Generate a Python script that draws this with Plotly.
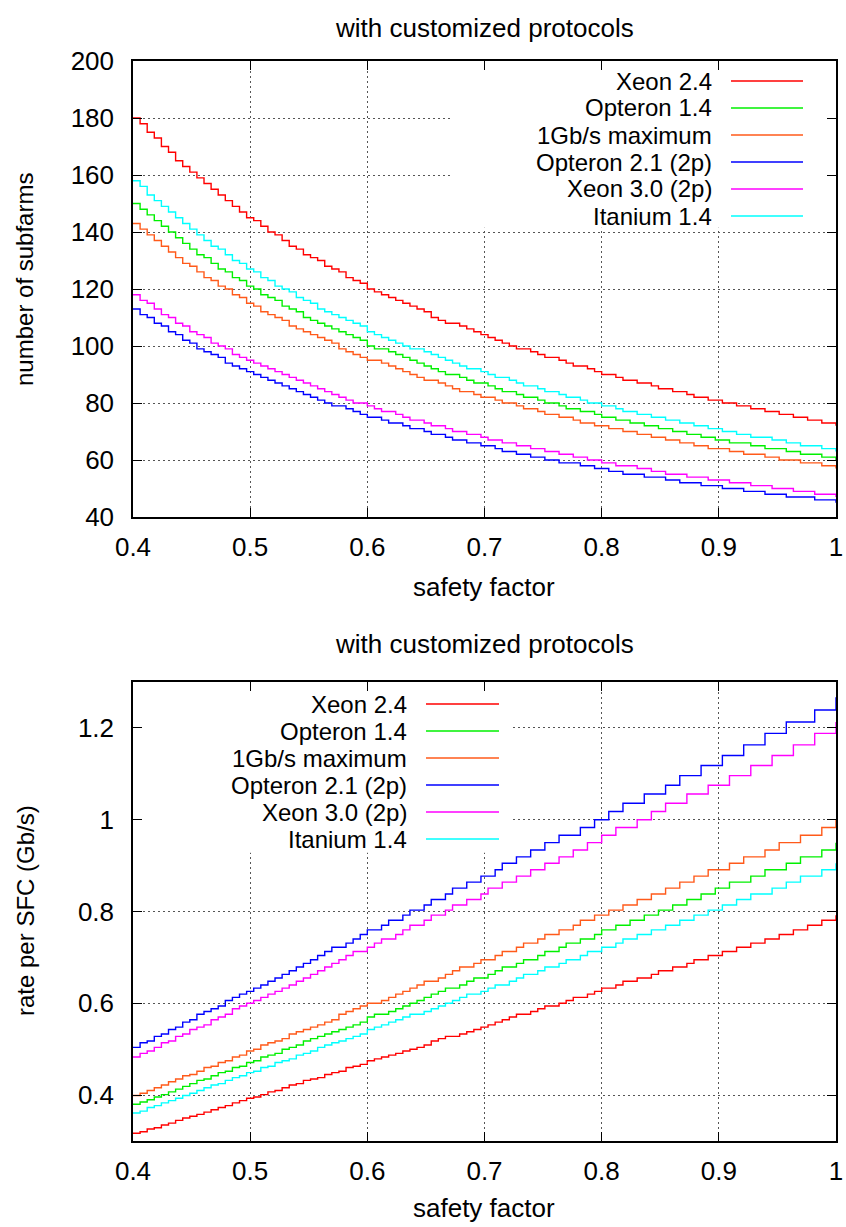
import numpy as np
import plotly.graph_objects as go

# safety factor samples (100 points across the axis range)
safety = np.linspace(0.4, 1.0, 100)

series_names = ["Xeon 2.4", "Opteron 1.4", "1Gb/s maximum",
                "Opteron 2.1 (2p)", "Xeon 3.0 (2p)", "Itanium 1.4"]
series_colors = ["#ff0000", "#00f000", "#ff5a1a", "#0000ff", "#ff00ff", "#00ffff"]

# number of subfarms
subfarms_xeon24 = [
    180, 178, 175, 173, 170, 168, 165, 163, 161, 159,
    157, 155, 153, 151, 149, 147, 145, 144, 142, 140,
    139, 137, 135, 134, 132, 131, 130, 128, 127, 126,
    124, 123, 122, 120, 119, 118, 117, 116, 115, 114,
    113, 112, 110, 109, 108, 108, 107, 106, 105, 104,
    103, 102, 101, 100, 99, 99, 98, 97, 96, 96,
    95, 94, 93, 93, 92, 91, 90, 90, 89, 88,
    88, 87, 87, 86, 85, 85, 84, 84, 83, 82,
    82, 81, 81, 80, 80, 79, 79, 78, 78, 77,
    77, 76, 76, 75, 75, 74, 74, 73, 73, 72]
subfarms_opteron14 = [
    150, 148, 146, 144, 142, 140, 138, 136, 134, 132,
    131, 129, 127, 126, 124, 123, 121, 120, 118, 117,
    116, 114, 113, 112, 110, 109, 108, 107, 106, 105,
    104, 103, 102, 100, 99, 99, 98, 97, 96, 95,
    94, 93, 92, 91, 90, 90, 89, 88, 87, 87,
    86, 85, 84, 84, 83, 82, 82, 81, 80, 80,
    79, 78, 78, 77, 77, 76, 75, 75, 74, 74,
    73, 73, 72, 72, 71, 71, 70, 70, 69, 69,
    68, 68, 67, 67, 66, 66, 66, 65, 65, 64,
    64, 64, 63, 63, 62, 62, 62, 61, 61, 60]
subfarms_1gb = [
    143, 141, 139, 137, 135, 133, 131, 129, 128, 126,
    124, 123, 121, 120, 118, 117, 115, 114, 112, 111,
    110, 109, 107, 106, 105, 104, 103, 102, 101, 99,
    98, 97, 96, 95, 95, 94, 93, 92, 91, 90,
    89, 88, 88, 87, 86, 85, 84, 84, 83, 82,
    82, 81, 80, 80, 79, 78, 78, 77, 76, 76,
    75, 75, 74, 73, 73, 72, 72, 71, 71, 70,
    70, 69, 69, 68, 68, 67, 67, 66, 66, 65,
    65, 64, 64, 64, 63, 63, 62, 62, 62, 61,
    61, 60, 60, 60, 59, 59, 59, 58, 58, 57]
subfarms_opteron21 = [
    113, 111, 110, 108, 107, 105, 104, 102, 101, 99,
    98, 97, 96, 94, 93, 92, 91, 90, 89, 88,
    87, 86, 85, 84, 83, 82, 81, 80, 79, 79,
    78, 77, 76, 75, 75, 74, 73, 73, 72, 71,
    71, 70, 69, 69, 68, 67, 67, 66, 66, 65,
    65, 64, 63, 63, 62, 62, 61, 61, 60, 60,
    59, 59, 59, 58, 58, 57, 57, 56, 56, 55,
    55, 55, 54, 54, 54, 53, 53, 52, 52, 52,
    51, 51, 51, 50, 50, 50, 49, 49, 49, 48,
    48, 48, 47, 47, 47, 47, 46, 46, 46, 45]
subfarms_xeon30 = [
    118, 116, 115, 113, 111, 110, 108, 107, 105, 104,
    103, 101, 100, 99, 97, 96, 95, 94, 93, 92,
    91, 90, 89, 88, 87, 86, 85, 84, 83, 82,
    81, 80, 80, 79, 78, 77, 77, 76, 75, 74,
    74, 73, 72, 72, 71, 70, 70, 69, 69, 68,
    67, 67, 66, 66, 65, 65, 64, 64, 63, 63,
    62, 62, 61, 61, 60, 60, 59, 59, 58, 58,
    58, 57, 57, 56, 56, 55, 55, 55, 54, 54,
    54, 53, 53, 53, 52, 52, 52, 51, 51, 51,
    50, 50, 50, 49, 49, 49, 48, 48, 48, 47]
subfarms_itanium14 = [
    158, 156, 153, 151, 149, 147, 145, 143, 141, 139,
    137, 135, 134, 132, 130, 129, 127, 126, 124, 123,
    121, 120, 119, 117, 116, 115, 113, 112, 111, 110,
    109, 108, 107, 105, 104, 103, 102, 101, 100, 99,
    99, 98, 97, 96, 95, 94, 93, 92, 92, 91,
    90, 89, 89, 88, 87, 86, 86, 85, 84, 84,
    83, 82, 82, 81, 80, 80, 79, 79, 78, 77,
    77, 76, 76, 75, 75, 74, 74, 73, 73, 72,
    72, 71, 71, 70, 70, 69, 69, 68, 68, 68,
    67, 67, 66, 66, 65, 65, 65, 64, 64, 63]

# rate per SFC (Gb/s)
rate_xeon24 = [
    0.317, 0.320, 0.326, 0.329, 0.335, 0.339, 0.345, 0.350, 0.354, 0.358,
    0.363, 0.368, 0.373, 0.377, 0.383, 0.388, 0.393, 0.396, 0.401, 0.407,
    0.410, 0.416, 0.422, 0.425, 0.432, 0.435, 0.438, 0.445, 0.449, 0.452,
    0.460, 0.463, 0.467, 0.475, 0.479, 0.483, 0.487, 0.491, 0.496, 0.500,
    0.504, 0.509, 0.518, 0.523, 0.528, 0.528, 0.533, 0.538, 0.543, 0.548,
    0.553, 0.559, 0.564, 0.570, 0.576, 0.576, 0.582, 0.588, 0.594, 0.594,
    0.600, 0.606, 0.613, 0.613, 0.620, 0.626, 0.633, 0.633, 0.640, 0.648,
    0.648, 0.655, 0.655, 0.663, 0.671, 0.671, 0.679, 0.679, 0.687, 0.695,
    0.695, 0.704, 0.704, 0.713, 0.713, 0.722, 0.722, 0.731, 0.731, 0.740,
    0.740, 0.750, 0.750, 0.760, 0.760, 0.770, 0.770, 0.781, 0.781, 0.792]
rate_opteron14 = [
    0.380, 0.385, 0.390, 0.396, 0.401, 0.407, 0.413, 0.419, 0.425, 0.432,
    0.435, 0.442, 0.449, 0.452, 0.460, 0.463, 0.471, 0.475, 0.483, 0.487,
    0.491, 0.500, 0.504, 0.509, 0.518, 0.523, 0.528, 0.533, 0.538, 0.543,
    0.548, 0.553, 0.559, 0.570, 0.576, 0.576, 0.582, 0.588, 0.594, 0.600,
    0.606, 0.613, 0.620, 0.626, 0.633, 0.633, 0.640, 0.648, 0.655, 0.655,
    0.663, 0.671, 0.679, 0.679, 0.687, 0.695, 0.695, 0.704, 0.713, 0.713,
    0.722, 0.731, 0.731, 0.740, 0.740, 0.750, 0.760, 0.760, 0.770, 0.770,
    0.781, 0.781, 0.792, 0.792, 0.803, 0.803, 0.814, 0.814, 0.826, 0.826,
    0.838, 0.838, 0.851, 0.851, 0.864, 0.864, 0.864, 0.877, 0.877, 0.891,
    0.891, 0.891, 0.905, 0.905, 0.919, 0.919, 0.919, 0.934, 0.934, 0.950]
rate_1gb = [
    0.399, 0.404, 0.410, 0.416, 0.422, 0.429, 0.435, 0.442, 0.445, 0.452,
    0.460, 0.463, 0.471, 0.475, 0.483, 0.487, 0.496, 0.500, 0.509, 0.514,
    0.518, 0.523, 0.533, 0.538, 0.543, 0.548, 0.553, 0.559, 0.564, 0.576,
    0.582, 0.588, 0.594, 0.600, 0.600, 0.606, 0.613, 0.620, 0.626, 0.633,
    0.640, 0.648, 0.648, 0.655, 0.663, 0.671, 0.679, 0.679, 0.687, 0.695,
    0.695, 0.704, 0.713, 0.713, 0.722, 0.731, 0.731, 0.740, 0.750, 0.750,
    0.760, 0.760, 0.770, 0.781, 0.781, 0.792, 0.792, 0.803, 0.803, 0.814,
    0.814, 0.826, 0.826, 0.838, 0.838, 0.851, 0.851, 0.864, 0.864, 0.877,
    0.877, 0.891, 0.891, 0.891, 0.905, 0.905, 0.919, 0.919, 0.919, 0.934,
    0.934, 0.950, 0.950, 0.950, 0.966, 0.966, 0.966, 0.983, 0.983, 1.000]
rate_opteron21 = [
    0.504, 0.514, 0.518, 0.528, 0.533, 0.543, 0.548, 0.559, 0.564, 0.576,
    0.582, 0.588, 0.594, 0.606, 0.613, 0.620, 0.626, 0.633, 0.640, 0.648,
    0.655, 0.663, 0.671, 0.679, 0.687, 0.695, 0.704, 0.713, 0.722, 0.722,
    0.731, 0.740, 0.750, 0.760, 0.760, 0.770, 0.781, 0.781, 0.792, 0.803,
    0.803, 0.814, 0.826, 0.826, 0.838, 0.851, 0.851, 0.864, 0.864, 0.877,
    0.877, 0.891, 0.905, 0.905, 0.919, 0.919, 0.934, 0.934, 0.950, 0.950,
    0.966, 0.966, 0.966, 0.983, 0.983, 1.000, 1.000, 1.018, 1.018, 1.036,
    1.036, 1.036, 1.056, 1.056, 1.056, 1.075, 1.075, 1.096, 1.096, 1.096,
    1.118, 1.118, 1.118, 1.140, 1.140, 1.140, 1.163, 1.163, 1.163, 1.188,
    1.188, 1.188, 1.213, 1.213, 1.213, 1.213, 1.239, 1.239, 1.239, 1.267]
rate_xeon30 = [
    0.483, 0.491, 0.496, 0.504, 0.514, 0.518, 0.528, 0.533, 0.543, 0.548,
    0.553, 0.564, 0.570, 0.576, 0.588, 0.594, 0.600, 0.606, 0.613, 0.620,
    0.626, 0.633, 0.640, 0.648, 0.655, 0.663, 0.671, 0.679, 0.687, 0.695,
    0.704, 0.713, 0.713, 0.722, 0.731, 0.740, 0.740, 0.750, 0.760, 0.770,
    0.770, 0.781, 0.792, 0.792, 0.803, 0.814, 0.814, 0.826, 0.826, 0.838,
    0.851, 0.851, 0.864, 0.864, 0.877, 0.877, 0.891, 0.891, 0.905, 0.905,
    0.919, 0.919, 0.934, 0.934, 0.950, 0.950, 0.966, 0.966, 0.983, 0.983,
    0.983, 1.000, 1.000, 1.018, 1.018, 1.036, 1.036, 1.036, 1.056, 1.056,
    1.056, 1.075, 1.075, 1.075, 1.096, 1.096, 1.096, 1.118, 1.118, 1.118,
    1.140, 1.140, 1.140, 1.163, 1.163, 1.163, 1.188, 1.188, 1.188, 1.213]
rate_itanium14 = [
    0.361, 0.365, 0.373, 0.377, 0.383, 0.388, 0.393, 0.399, 0.404, 0.410,
    0.416, 0.422, 0.425, 0.432, 0.438, 0.442, 0.449, 0.452, 0.460, 0.463,
    0.471, 0.475, 0.479, 0.487, 0.491, 0.496, 0.504, 0.509, 0.514, 0.518,
    0.523, 0.528, 0.533, 0.543, 0.548, 0.553, 0.559, 0.564, 0.570, 0.576,
    0.576, 0.582, 0.588, 0.594, 0.600, 0.606, 0.613, 0.620, 0.620, 0.626,
    0.633, 0.640, 0.640, 0.648, 0.655, 0.663, 0.663, 0.671, 0.679, 0.679,
    0.687, 0.695, 0.695, 0.704, 0.713, 0.713, 0.722, 0.722, 0.731, 0.740,
    0.740, 0.750, 0.750, 0.760, 0.760, 0.770, 0.770, 0.781, 0.781, 0.792,
    0.792, 0.803, 0.803, 0.814, 0.814, 0.826, 0.826, 0.838, 0.838, 0.838,
    0.851, 0.851, 0.864, 0.864, 0.877, 0.877, 0.877, 0.891, 0.891, 0.905]

subfarm_series = [subfarms_xeon24, subfarms_opteron14, subfarms_1gb,
                  subfarms_opteron21, subfarms_xeon30, subfarms_itanium14]
rate_series = [rate_xeon24, rate_opteron14, rate_1gb,
               rate_opteron21, rate_xeon30, rate_itanium14]

x_ticks = [0.4, 0.5, 0.6, 0.7, 0.8, 0.9, 1.0]
x_tick_text = ["0.4", "0.5", "0.6", "0.7", "0.8", "0.9", "1"]
top_y_ticks = [40, 60, 80, 100, 120, 140, 160, 180, 200]
bottom_y_ticks = [0.4, 0.6, 0.8, 1.0, 1.2]
bottom_y_text = ["0.4", "0.6", "0.8", "1", "1.2"]

W, H = 846, 1227
FONT = "Liberation Sans, Arial, Helvetica, sans-serif"
FS = 26      # ticks and titles
KEY_FS = 24  # key labels


def px(xp):
    return xp / W


def py(yp):
    return 1 - yp / H


fig = go.Figure()

for name, color, ys in zip(series_names, series_colors, subfarm_series):
    fig.add_trace(go.Scatter(x=safety, y=ys, name=name, mode="lines",
                             line=dict(color=color, width=1.4, shape="hv"),
                             xaxis="x", yaxis="y", showlegend=False,
                             hoverinfo="skip"))
for name, color, ys in zip(series_names, series_colors, rate_series):
    fig.add_trace(go.Scatter(x=safety, y=ys, name=name, mode="lines",
                             line=dict(color=color, width=1.4, shape="hv"),
                             xaxis="x2", yaxis="y2", showlegend=False,
                             hoverinfo="skip"))

axis_common = dict(
    showline=True, linecolor="black", linewidth=1.5, mirror="ticks",
    ticks="inside", ticklen=9, tickwidth=1.2, tickcolor="black",
    showgrid=True, gridcolor="#555555", gridwidth=1, griddash="2px,3px",
    zeroline=False, automargin=False,
    tickfont=dict(family=FONT, size=FS, color="black"),
)

xdom = [px(133), px(836)]
top_dom = [py(517), py(61)]
bot_dom = [py(1141), py(682)]

fig.update_layout(
    width=W, height=H, autosize=False,
    margin=dict(l=0, r=0, t=0, b=0, pad=0),
    paper_bgcolor="white", plot_bgcolor="white",
    font=dict(family=FONT, size=FS, color="black"),
    xaxis=dict(domain=xdom, anchor="y", range=[0.4, 1.0],
               tickvals=x_ticks, ticktext=x_tick_text,
               ticklabelstandoff=6, **axis_common),
    yaxis=dict(domain=top_dom, anchor="x", range=[40, 200],
               tickvals=top_y_ticks, ticklabelstandoff=12, **axis_common),
    xaxis2=dict(domain=xdom, anchor="y2", range=[0.4, 1.0],
                tickvals=x_ticks, ticktext=x_tick_text,
                ticklabelstandoff=6, **axis_common),
    yaxis2=dict(domain=bot_dom, anchor="x2", range=[0.3, 1.3],
                tickvals=bottom_y_ticks, ticktext=bottom_y_text,
                ticklabelstandoff=12, **axis_common),
)

# key areas are kept clear of grid lines
fig.add_shape(type="rect", xref="x", yref="y", x0=0.672, x1=1.0, y0=141.5, y1=200,
              fillcolor="white", line=dict(width=0), layer="between")
fig.add_shape(type="rect", xref="x2", yref="y2", x0=0.4, x1=0.724, y0=0.928, y1=1.3,
              fillcolor="white", line=dict(width=0), layer="between")

annotations = []


def text_at(x, y, text, xanchor="center", angle=0, size=FS):
    annotations.append(dict(x=x, y=y, xref="paper", yref="paper", text=text,
                            showarrow=False, xanchor=xanchor, yanchor="middle",
                            textangle=angle, borderpad=0,
                            font=dict(family=FONT, size=size, color="black")))


# titles and axis labels
text_at(px(484), py(28), "with customized protocols")
text_at(px(484), py(587), "safety factor")
text_at(px(25), py(280), "number of subfarms", angle=-90, size=24)
text_at(px(484), py(644), "with customized protocols")
text_at(px(484), py(1208), "safety factor")
text_at(px(25), py(911), "rate per SFC (Gb/s)", angle=-90, size=24)

# keys: right-aligned label followed by a line sample
top_rows = [81, 108, 135, 162, 189, 216]
bottom_rows = [704, 731, 758, 785, 812, 839]
for name, color, ty, by in zip(series_names, series_colors, top_rows, bottom_rows):
    text_at(px(713), py(ty), name, xanchor="right", size=KEY_FS)
    fig.add_shape(type="line", xref="paper", yref="paper",
                  x0=px(731), x1=px(803), y0=py(ty), y1=py(ty),
                  line=dict(color=color, width=1.4))
    text_at(px(408), py(by), name, xanchor="right", size=KEY_FS)
    fig.add_shape(type="line", xref="paper", yref="paper",
                  x0=px(426), x1=px(499), y0=py(by), y1=py(by),
                  line=dict(color=color, width=1.4))

fig.update_layout(annotations=annotations)

fig.write_html("out.html")
